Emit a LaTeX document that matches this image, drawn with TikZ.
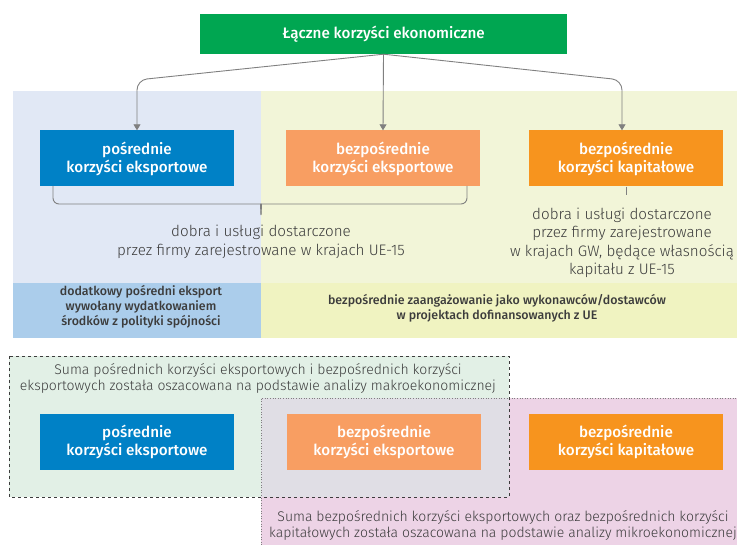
\documentclass[tikz,border=0pt]{standalone}
\usepackage{fontspec}
\setmainfont{Fira Sans}
\newfontfamily\boxfont{Fira Sans Medium}
\newfontfamily\lightfont{Fira Sans Light}
\usetikzlibrary{positioning,arrows.meta}

\definecolor{topgreen}{HTML}{00A651}
\definecolor{boxblue}{HTML}{0081C6}
\definecolor{boxpeach}{HTML}{F89E62}
\definecolor{boxorange}{HTML}{F7941E}
\definecolor{panelblue}{HTML}{E1E8F5}
\definecolor{panelyellow}{HTML}{F2F5D8}
\definecolor{rowblue}{HTML}{ABCDEB}
\definecolor{rowyellow}{HTML}{F0F3C1}
\definecolor{sumgreen}{HTML}{E2F0E6}
\definecolor{sumpink}{HTML}{EDD3E6}
\definecolor{sumgray}{HTML}{E0DEE5}
\definecolor{linkgray}{HTML}{808080}
\definecolor{textgray}{HTML}{3C3C3C}

\begin{document}
\begin{tikzpicture}[x=1pt,y=-1pt,
    box/.style={minimum width=194pt,minimum height=56pt,inner sep=0pt,
      text=white,align=center,font=\boxfont\fontsize{15.2}{18}\selectfont},
    note/.style={align=center,text=textgray,inner sep=0pt,
      font=\lightfont\fontsize{15.2}{18.5}\selectfont},
    rownote/.style={align=center,text=textgray,inner sep=0pt,
      font=\boxfont\fontsize{12.4}{15}\selectfont},
    sumnote/.style={align=center,text=textgray,inner sep=0pt,
      font=\lightfont\fontsize{14}{16}\selectfont},
    link/.style={draw=linkgray,line width=0.9pt},
    arrow/.style={link,-{Triangle[length=6pt,width=7pt]}}]
    \useasboundingbox (0,0) rectangle (737,545);

    % background panels
    \fill[panelblue] (13,91) rectangle (261,283);
    \fill[panelyellow] (261,91) rectangle (737,283);
    \fill[rowblue] (13,283) rectangle (261,338);
    \fill[rowyellow] (261,283) rectangle (737,338);

    % estimation areas
    \fill[sumpink] (261,398) rectangle (737,545);
    \fill[sumgreen] (9,356) rectangle (509,497);
    \fill[sumgray] (261,398) rectangle (509,497);
    \draw[linkgray,dotted,line width=0.6pt] (261,545) -- (261,398) -- (737,398);
    \draw[textgray,dashed,line width=0.6pt] (9,356) rectangle (509,497);

    \node[box,fill=topgreen,minimum width=367pt,minimum height=40pt] (total) at (383.5,34) {Łączne korzyści ekonomiczne};

    \node[box,fill=boxblue] (indirect) at (137,158.5) {pośrednie\\korzyści eksportowe};
    \node[box,fill=boxpeach] (directExp) at (383,158.5) {bezpośrednie\\korzyści eksportowe};
    \node[box,fill=boxorange] (directCap) at (626,158.5) {bezpośrednie\\korzyści kapitałowe};

    \draw[arrow,rounded corners=10pt] (total.south) -- (137,80) -- (indirect.north);
    \draw[arrow] (total.south) -- (directExp.north);
    \draw[arrow,rounded corners=10pt] (total.south) -- (622,80) -- ([xshift=-4pt]directCap.north);

    % brace under the export boxes
    \coordinate (braceTip) at (261,215);
    \draw[link,rounded corners=6pt] (53,186) |- (255,204) to[out=0,in=90] (braceTip);
    \draw[link,rounded corners=6pt] (467,186) |- (267,204) to[out=180,in=90] (braceTip);
    \coordinate (capTick) at (626,195);
    \draw[link] (directCap.south) -- (capTick);

    \node[note] (goodsEU) at (261,242) {dobra i usługi dostarczone\\przez firmy zarejestrowane w krajach UE-15};
    \node[note] (goodsGW) at (622,243) {dobra i usługi dostarczone\\przez firmy zarejestrowane\\w krajach GW, będące własnością\\kapitału z UE-15};

    \node[rownote] (indirectRow) at (141,307) {dodatkowy pośredni eksport\\wywołany wydatkowaniem\\środków z polityki spójności};
    \node[rownote] (directRow) at (497,308.5) {bezpośrednie zaangażowanie jako wykonawców/dostawców\\w projektach dofinansowanych z UE};

    \node[sumnote] (macro) at (258,378) {Suma pośrednich korzyści eksportowych i bezpośrednich korzyści\\eksportowych została oszacowana na podstawie analizy makroekonomicznej};

    \node[box,fill=boxblue] (indirectB) at (137,442) {pośrednie\\korzyści eksportowe};
    \node[box,fill=boxpeach] (directExpB) at (384,442) {bezpośrednie\\korzyści eksportowe};
    \node[box,fill=boxorange] (directCapB) at (626,442) {bezpośrednie\\korzyści kapitałowe};

    \node[sumnote] (micro) at (503,525) {Suma bezpośrednich korzyści eksportowych oraz bezpośrednich korzyści\\kapitałowych została oszacowana na podstawie analizy mikroekonomicznej};
\end{tikzpicture}
\end{document}
